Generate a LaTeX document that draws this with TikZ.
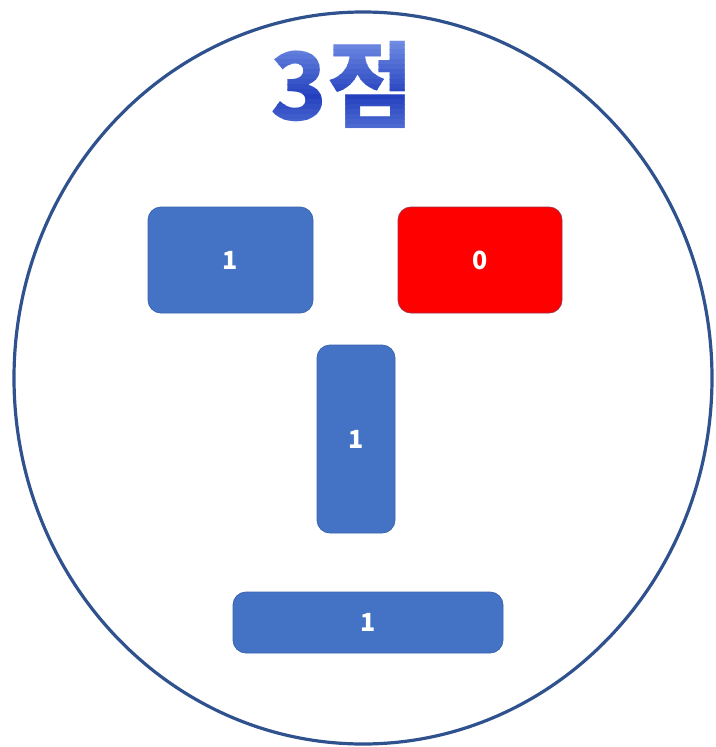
\documentclass[tikz,border=0pt]{standalone}
\usepackage{fontspec}
\setmainfont{Noto Sans CJK KR}
\newfontfamily\kofont{Noto Sans CJK KR}

\definecolor{facering}{HTML}{2F528F}
\definecolor{tileblue}{HTML}{4472C4}
\definecolor{tileedge}{HTML}{3A64AE}
\definecolor{tilered}{HTML}{FF0000}
\definecolor{rededge}{HTML}{A0304A}
\definecolor{titletop}{HTML}{86A2EE}
\definecolor{titlemid}{HTML}{2440BE}

\tikzset{
	tile/.style={draw=tileedge, fill=tileblue, rounded corners=13pt, line width=0.8pt,
		text=white, inner sep=0pt, font=\kofont\bfseries\fontsize{25}{25}\selectfont},
	redtile/.style={tile, draw=rededge, fill=tilered},
	headline/.style={inner sep=0pt, font=\kofont\bfseries\fontsize{94}{94}\selectfont},
}

\begin{document}
\begin{tikzpicture}[x=1pt, y=-1pt]
		\useasboundingbox (0, 0) rectangle (715, 747);
		% Outer ring of the face.
		\draw[facering, line width=3.2pt] (363, 378) ellipse [x radius=349, y radius=366];
		% Heading, shaded strip by strip.
		\foreach \k in {0, ..., 21} {
			\pgfmathsetmacro{\ytop}{34 + 5 * \k}
			\pgfmathsetmacro{\ybot}{\ytop + 5.6}
			\pgfmathtruncatemacro{\mix}{100 - 7 * abs(\k - 12)}
			\begin{scope}
				\clip (240, \ytop) rectangle (450, \ybot);
				\node[headline, text=titlemid!\mix!titletop] (title\k) at (342, 85) {3점};
			\end{scope}
		}
		% Eyes, nose and mouth.
		\node[tile, minimum width=165pt, minimum height=106pt] (lefteye) at (230.5, 260) {1};
		\node[redtile, minimum width=164pt, minimum height=106pt] (righteye) at (480, 260) {0};
		\node[tile, minimum width=78pt, minimum height=188pt] (nose) at (356, 439) {1};
		\node[tile, minimum width=270pt, minimum height=61pt] (mouth) at (368, 622.5) {1};
	\end{tikzpicture}
\end{document}
